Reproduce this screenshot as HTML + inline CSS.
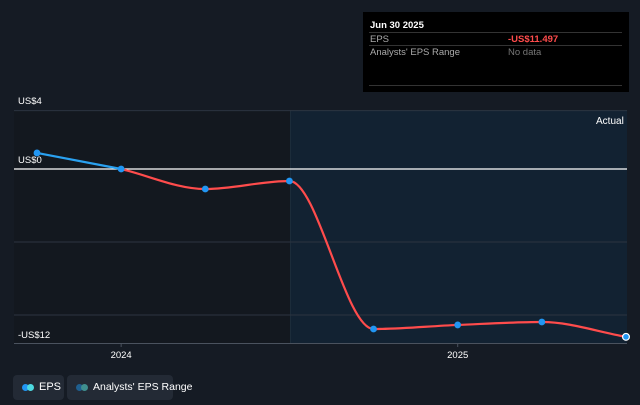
<!DOCTYPE html>
<html><head><meta charset="utf-8"><style>
body{margin:0;background:#151b24;width:640px;height:405px;overflow:hidden;font-family:"Liberation Sans",sans-serif}
svg{position:absolute;left:0;top:0}
.lg{position:absolute;top:375px;height:25px;background:#232a35;border-radius:4px;color:#fff;font-size:11px;line-height:25px;box-sizing:border-box;white-space:nowrap}
</style></head><body>
<svg id="c" width="640" height="405">
<rect x="14" y="110" width="276" height="233" fill="#13181f"/>
<rect x="290" y="110" width="337" height="233" fill="#122232"/>
<line x1="290.5" y1="110" x2="290.5" y2="343" stroke="#1c2c3a"/>
<text x="596" y="124" fill="#fff" font-size="10">Actual</text>
<g id="grid"></g><g id="lines"></g><g id="pts"></g>
<g>
<rect x="363" y="12" width="266" height="80" fill="#000"/>
<text x="370" y="28" fill="#fff" font-size="9.5" font-weight="bold">Jun 30 2025</text>
<line x1="369" y1="32.5" x2="622" y2="32.5" stroke="#333"/>
<text x="370" y="42" fill="#aaa" font-size="9.5">EPS</text>
<text x="508" y="42" fill="#ff4c4c" font-size="9.5" font-weight="bold">-US$11.497</text>
<line x1="369" y1="45.5" x2="622" y2="45.5" stroke="#333"/>
<text x="370" y="55" fill="#aaa" font-size="9.5">Analysts' EPS Range</text>
<text x="508" y="55" fill="#777" font-size="9.5">No data</text>
<line x1="369" y1="85.5" x2="622" y2="85.5" stroke="#333"/>
</g>
</svg>
<div class="lg" style="left:13px;width:51px"><span style="position:absolute;left:9px;top:9px;width:7px;height:7px;border-radius:50%;background:#2196f3"></span><span style="position:absolute;left:14px;top:9px;width:7px;height:7px;border-radius:50%;background:#4dd9e0"></span><span style="position:absolute;left:26px">EPS</span></div>
<div class="lg" style="left:67px;width:106px"><span style="position:absolute;left:9px;top:9px;width:7px;height:7px;border-radius:50%;background:#1f5f8f"></span><span style="position:absolute;left:14px;top:9px;width:7px;height:7px;border-radius:50%;background:#3f8f8f"></span><span style="position:absolute;left:26px;font-size:10.5px">Analysts' EPS Range</span></div>
<script>
const quarters=["Sep 2023","Dec 2023","Mar 2024","Jun 2024","Sep 2024","Dec 2024","Mar 2025","Jun 2025"];
const eps=[1.1,0,-1.37,-0.82,-10.96,-10.68,-10.48,-11.497];
const yTicks=[4,0,-5,-10];
const yLabels=["US$4","US$0","","-US$12"];
const xTicks=[{label:"2024",q:1},{label:"2025",q:5}];
const NS="http://www.w3.org/2000/svg";
const x=i=>37+i*84.14, y=v=>169-v*14.6;
function mk(t,a,p){const e=document.createElementNS(NS,t);for(const k in a)e.setAttribute(k,a[k]);p.appendChild(e);return e;}
const g=document.getElementById('grid');
yTicks.forEach((v,i)=>{const l=mk('line',{x1:14,x2:627,y1:y(v),y2:y(v),stroke:v===0?'#fff':'#2c3440','stroke-width':v===0?1.3:1},g);

});
yLabels.forEach((s,i)=>{if(!s)return;const t=mk('text',{x:18,y:i===3?338:(i===1?163:104),fill:'#fff','font-size':9.5},g);t.textContent=s;

});
mk('line',{x1:14,x2:627,y1:343.5,y2:343.5,stroke:'#4a525e'},g);
xTicks.forEach(d=>{mk('line',{x1:x(d.q),x2:x(d.q),y1:343,y2:347,stroke:'#4a525e'},g);const t=mk('text',{x:x(d.q),y:358,fill:'#fff','font-size':9.5,'text-anchor':'middle'},g);t.textContent=d.label;

});
const P=eps.map((v,i)=>[x(i),y(v)]);
// monotone cubic for points 1..end
const Q=P.slice(1),n=Q.length,dx=[],s=[],m=[];
for(let i=0;i<n-1;i++){dx[i]=Q[i+1][0]-Q[i][0];s[i]=(Q[i+1][1]-Q[i][1])/dx[i];}
m[0]=s[0];m[n-1]=s[n-2];
for(let i=1;i<n-1;i++){m[i]=s[i-1]*s[i]<=0?0:3*(dx[i-1]+dx[i])/((2*dx[i]+dx[i-1])/s[i-1]+(dx[i]+2*dx[i-1])/s[i]);}
let dr=`M${Q[0][0]},${Q[0][1]}`;
for(let i=0;i<n-1;i++){const h=dx[i]/3;dr+=`C${Q[i][0]+h},${Q[i][1]+m[i]*h} ${Q[i+1][0]-h},${Q[i+1][1]-m[i+1]*h} ${Q[i+1][0]},${Q[i+1][1]}`;}
const L=document.getElementById('lines');
const b=mk('path',{d:`M${P[0][0]},${P[0][1]}L${P[1][0]},${P[1][1]}`,stroke:'#2aa1f0','stroke-width':2.2,fill:'none'},L);


const r=mk('path',{d:dr,stroke:'#ff4c4c','stroke-width':2.2,fill:'none'},L);


const pg=document.getElementById('pts');
P.forEach((p,i)=>{const last=i===P.length-1;const c=mk('circle',{cx:p[0],cy:p[1],r:3.4,fill:'#2196f3',stroke:last?'#fff':'none','stroke-width':1.2},pg);

});
</script>
</body></html>
